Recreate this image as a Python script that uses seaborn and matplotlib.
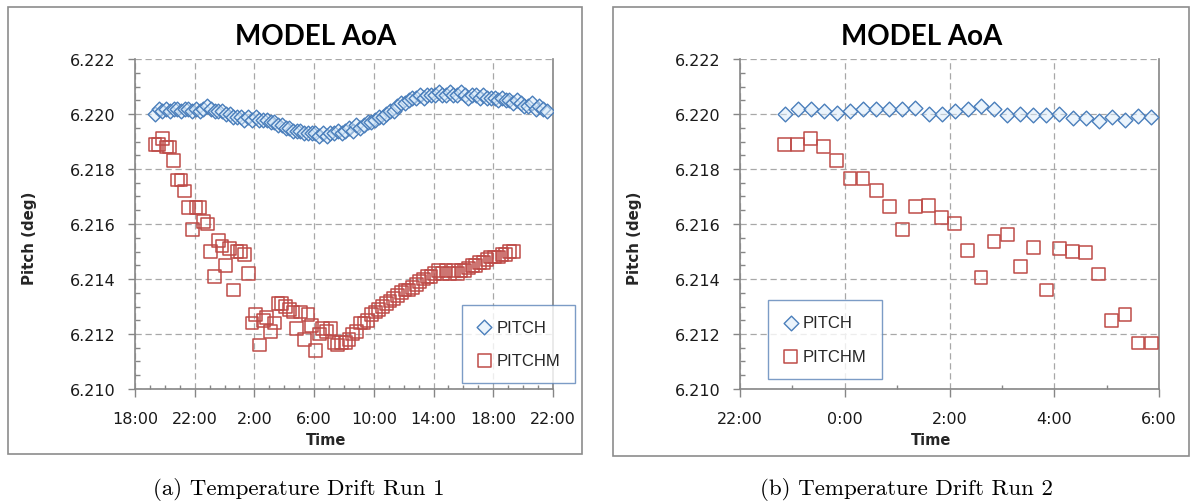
import matplotlib
matplotlib.use("Agg")
import matplotlib.pyplot as plt
import matplotlib.dates as mdates
from matplotlib.patches import Rectangle
from matplotlib.ticker import MultipleLocator, FuncFormatter
import pandas as pd
import seaborn as sns

# Run 1: one sample every 15 min from 19:20
run1_start = "2011-03-01 19:20"
run1_step = "15min"
run1_pitch = [
    6.2200, 6.2202, 6.2201, 6.2202, 6.2201, 6.2202, 6.2202, 6.2201, 6.2202, 6.2202,
    6.2201, 6.2202, 6.2201, 6.2202, 6.2203, 6.2202, 6.2201, 6.2201, 6.2201, 6.2200,
    6.2200, 6.2199, 6.2199, 6.2199, 6.2198, 6.2199, 6.2198, 6.2199, 6.2198, 6.2198,
    6.2198, 6.2197, 6.2197, 6.2196, 6.2196, 6.2195, 6.2195, 6.2194, 6.2194, 6.2194,
    6.2193, 6.2193, 6.2193, 6.2193, 6.2192, 6.2193, 6.2192, 6.2193, 6.2193, 6.2194,
    6.2193, 6.2194, 6.2195, 6.2194, 6.2196, 6.2195, 6.2196, 6.2197, 6.2197, 6.2198,
    6.2199, 6.2199, 6.2200, 6.2201, 6.2201, 6.2203, 6.2204, 6.2204, 6.2205, 6.2206,
    6.2206, 6.2207, 6.2206, 6.2207, 6.2207, 6.2207, 6.2208, 6.2207, 6.2207, 6.2208,
    6.2207, 6.2207, 6.2208, 6.2207, 6.2206, 6.2207, 6.2207, 6.2206, 6.2207, 6.2206,
    6.2206, 6.2206, 6.2205, 6.2206, 6.2205, 6.2205, 6.2204, 6.2205, 6.2204, 6.2203,
    6.2203, 6.2204, 6.2202, 6.2203, 6.2202, 6.2201,
]
run1_pitchm = [
    6.2189, 6.2189, 6.2191, 6.2188, 6.2188, 6.2183, 6.2176, 6.2176, 6.2172, 6.2166,
    6.2158, 6.2166, 6.2166, 6.2161, 6.2160, 6.2150, 6.2141, 6.2154, 6.2152, 6.2145,
    6.2151, 6.2136, 6.2150, 6.2150, 6.2149, 6.2142, 6.2124, 6.2127, 6.2116, 6.2125,
    6.2126, 6.2121, 6.2124, 6.2131, 6.2131, 6.2130, 6.2129, 6.2128, 6.2122, 6.2128,
    6.2118, 6.2127, 6.2123, 6.2114, 6.2120, 6.2122, 6.2121, 6.2122, 6.2117, 6.2116,
    6.2117, 6.2117, 6.2118, 6.2120, 6.2121, 6.2124, 6.2124, 6.2125, 6.2127, 6.2128,
    6.2129, 6.2130, 6.2131, 6.2132, 6.2133, 6.2134, 6.2135, 6.2136, 6.2136, 6.2137,
    6.2138, 6.2139, 6.2140, 6.2141, 6.2141, 6.2142, 6.2143, 6.2142, 6.2143, 6.2142,
    6.2143, 6.2142, 6.2143, 6.2143, 6.2144, 6.2145, 6.2145, 6.2146, 6.2146, 6.2147,
    6.2148, 6.2148, 6.2148, 6.2149, 6.2149, 6.2150, 6.2150,
]

# Run 2: one sample every 15 min from 22:51
run2_start = "2011-03-05 22:51"
run2_step = "15min"
run2_pitch = [
    6.22000, 6.22017, 6.22019, 6.22011, 6.22005, 6.22011, 6.22019, 6.22019, 6.22017, 6.22017,
    6.22023, 6.22001, 6.22001, 6.22011, 6.22017, 6.22029, 6.22020, 6.21996, 6.22001, 6.21996,
    6.21996, 6.21999, 6.21987, 6.21984, 6.21975, 6.21990, 6.21977, 6.21993, 6.21990,
]
run2_pitchm = [
    6.21890, 6.21888, 6.21912, 6.21882, 6.21830, 6.21764, 6.21764, 6.21722, 6.21664, 6.21580,
    6.21664, 6.21667, 6.21623, 6.21601, 6.21505, 6.21406, 6.21535, 6.21563, 6.21445, 6.21514,
    6.21360, 6.21511, 6.21499, 6.21495, 6.21418, 6.21249, 6.21270, 6.21167, 6.21167,
]

run1_xlim = ("2011-03-01 18:00", "2011-03-02 22:00")
run2_xlim = ("2011-03-05 22:00", "2011-03-06 06:00")
run1_major_hours = [2, 6, 10, 14, 18, 22]
run2_major_hours = [0, 2, 4, 6, 8, 10, 12, 14, 16, 18, 20, 22]

captions = ["(a) Temperature Drift Run 1", "(b) Temperature Drift Run 2"]

BLUE = "#4a7ebb"
RED = "#be4b48"
GRAY = "#868686"

sns.set_theme(style="white")
plt.rcParams["font.family"] = ["DejaVu Sans"]


def make_frame(start, step, pitch, pitchm):
    t = pd.date_range(start, periods=len(pitch), freq=step)
    df = pd.DataFrame({"time": t, "PITCH": pitch})
    df["PITCHM"] = pd.Series(pitchm, dtype=float)
    return df


def draw(ax, df, xlim, major_hours, legend_center):
    sns.scatterplot(data=df, x="time", y="PITCH", marker="D", s=56,
                    facecolor=(0.85, 0.92, 0.98, 0.5), edgecolor=BLUE,
                    linewidth=1.0, label="PITCH", ax=ax, zorder=3)
    sns.scatterplot(data=df, x="time", y="PITCHM", marker="s", s=85,
                    facecolor="none", edgecolor=RED,
                    linewidth=1.1, label="PITCHM", ax=ax, zorder=3)

    ax.set_ylim(6.210, 6.222)
    ax.yaxis.set_major_locator(MultipleLocator(0.002))
    ax.yaxis.set_minor_locator(MultipleLocator(0.0005))
    ax.yaxis.set_major_formatter(FuncFormatter(lambda v, p: f"{v:.3f}"))

    ax.set_xlim(pd.Timestamp(xlim[0]), pd.Timestamp(xlim[1]))
    ax.xaxis.set_major_locator(mdates.HourLocator(byhour=major_hours))
    ax.xaxis.set_minor_locator(mdates.HourLocator())
    ax.xaxis.set_major_formatter(
        FuncFormatter(lambda v, p: f"{mdates.num2date(v).hour}:00"))

    ax.set_axisbelow(True)
    ax.grid(True, which="major", color="#a8a8a8", linestyle=(0, (5, 3)), linewidth=0.9)
    for side in ["left", "bottom", "right"]:
        ax.spines[side].set_color(GRAY)
        ax.spines[side].set_linewidth(1.2)
    ax.spines["top"].set_visible(False)

    ax.tick_params(axis="y", which="major", direction="out", length=5, width=1,
                   color=GRAY, labelsize=11.5, pad=9, labelcolor="#1a1a1a", left=True)
    ax.tick_params(axis="y", which="minor", direction="in", length=3.5, width=1,
                   color=GRAY, left=True)
    ax.tick_params(axis="x", which="major", direction="out", length=5.5, width=1,
                   color=GRAY, labelsize=11.5, pad=10, labelcolor="#1a1a1a", bottom=True)
    ax.tick_params(axis="x", which="minor", direction="in", length=3, width=1,
                   color=GRAY, bottom=True)

    ax.set_xlabel("Time", fontsize=10.5, fontweight="bold", labelpad=0)
    ax.xaxis.set_label_coords(0.457, -0.13)
    ax.xaxis.label.set_va("top")
    ax.set_ylabel("Pitch (deg)", fontsize=10.8, fontweight="bold")
    ax.yaxis.set_label_coords(-0.235, 0.46)

    leg = ax.legend(loc="center", bbox_to_anchor=legend_center,
                    bbox_transform=ax.figure.transFigure,
                    prop={"family": "Liberation Sans", "size": 12},
                    frameon=True, fancybox=False, handlelength=0.9,
                    handletextpad=0.3, borderpad=0.9, labelspacing=1.1,
                    borderaxespad=0)
    leg.get_frame().set_edgecolor("#5b84b8")
    leg.get_frame().set_linewidth(1.0)
    leg.set_zorder(5)


fig = plt.figure(figsize=(11.9, 5.02), dpi=100)
W, H = 1190, 502

ax1 = fig.add_axes([135 / W, (H - 390) / H, 418 / W, 330 / H])
ax2 = fig.add_axes([740 / W, (H - 390) / H, 419 / W, 330 / H])

df1 = make_frame(run1_start, run1_step, run1_pitch, run1_pitchm)
df2 = make_frame(run2_start, run2_step, run2_pitch, run2_pitchm)

draw(ax1, df1, run1_xlim, run1_major_hours, (518.5 / W, 1 - 345 / H))
draw(ax2, df2, run2_xlim, run2_major_hours, (825 / W, 1 - 340.5 / H))

# chart frames
fig.patches.append(Rectangle((8 / W, (H - 455) / H), 574 / W, 447 / H,
                             transform=fig.transFigure, fill=False,
                             edgecolor="#8c8c8c", linewidth=1.2))
fig.patches.append(Rectangle((613 / W, (H - 457) / H), 576 / W, 449 / H,
                             transform=fig.transFigure, fill=False,
                             edgecolor="#8c8c8c", linewidth=1.2))

# titles and captions
for cx in [316 / W, 922 / W]:
    fig.text(cx, 1 - 37 / H, "MODEL AoA", ha="center", va="center", color="black",
             fontsize=20, fontweight="bold", family=["Lato", "DejaVu Sans"])
for cx, cap in zip([299 / W, 906 / W], captions):
    fig.text(cx, 1 - 490 / H, cap, ha="center", va="center", color="black",
             fontsize=16.5, family=["cmr10", "DejaVu Serif"])

fig.savefig("out.png", dpi=100)
